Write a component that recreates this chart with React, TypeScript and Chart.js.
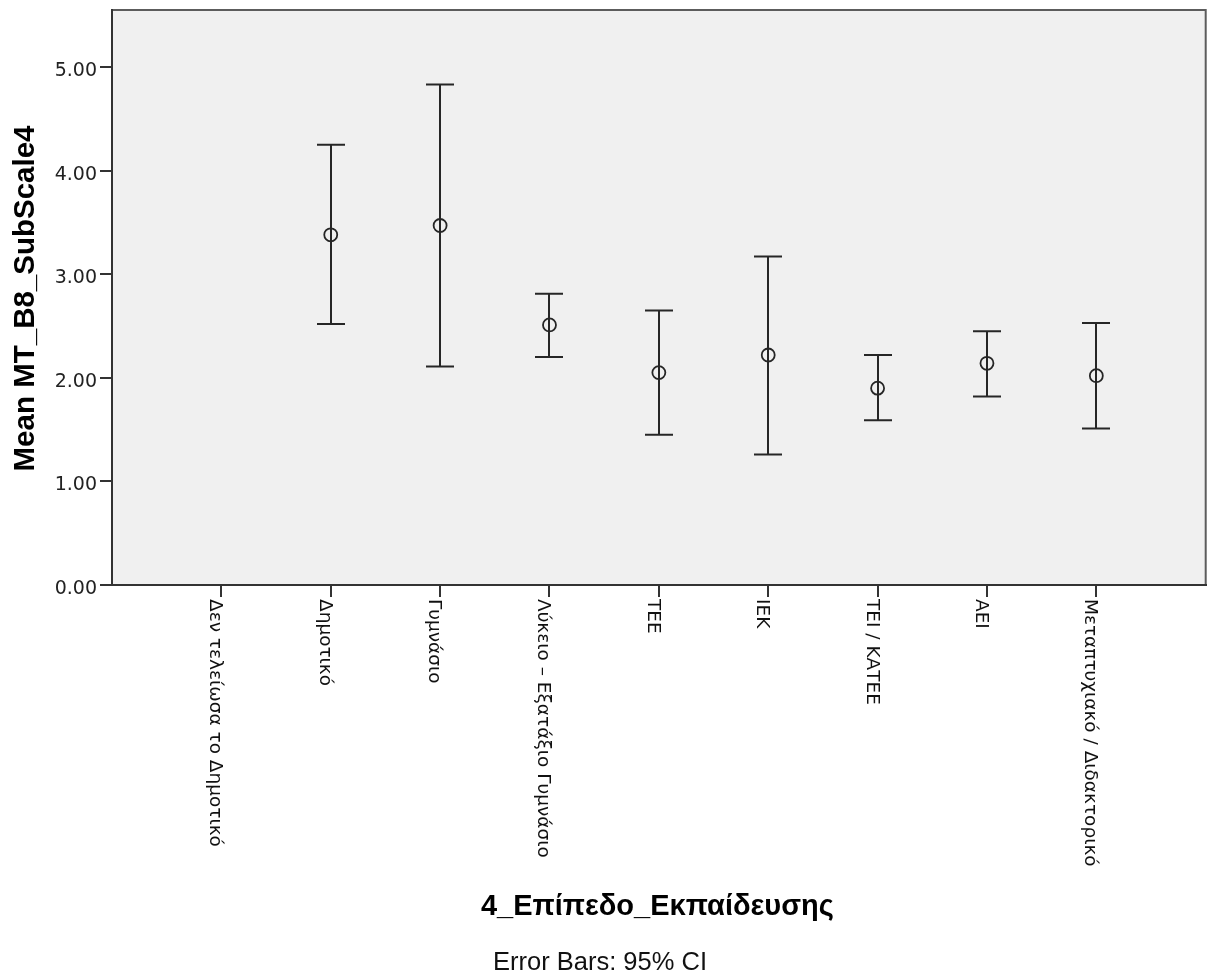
import React, { useEffect, useRef } from 'react';
import { Chart, registerables } from 'chart.js';

Chart.register(...registerables);

// ---- Data ----
const categories: string[] = [
  'Δεν τελείωσα το Δημοτικό',
  'Δημοτικό',
  'Γυμνάσιο',
  'Λύκειο – Εξατάξιο Γυμνάσιο',
  'ΤΕΕ',
  'ΙΕΚ',
  'ΤΕΙ / ΚΑΤΕΕ',
  'ΑΕΙ',
  'Μεταπτυχιακό / Διδακτορικό',
];
const means: (number | null)[] = [null, 3.38, 3.47, 2.51, 2.05, 2.22, 1.90, 2.14, 2.02];
const ciUpper: (number | null)[] = [null, 4.25, 4.83, 2.81, 2.65, 3.17, 2.22, 2.45, 2.53];
const ciLower: (number | null)[] = [null, 2.52, 2.11, 2.20, 1.45, 1.26, 1.59, 1.82, 1.51];
const yTicks: number[] = [0, 1, 2, 3, 4, 5];
const yMax = 5.55;
const yAxisTitle = 'Mean MT_B8_SubScale4';
const xAxisTitle = '4_Επίπεδο_Εκπαίδευσης';
const footnote = 'Error Bars: 95% CI';

const FONT = '"Liberation Sans", Arial, sans-serif';
const TICK_FONT = '"DejaVu Sans", Verdana, sans-serif';

const spssPlugin = {
  id: 'spssDecor',
  beforeDraw(chart: any) {
    const { ctx, chartArea: a } = chart;
    ctx.save();
    ctx.fillStyle = '#f0f0f0';
    ctx.fillRect(a.left, a.top, a.right - a.left, a.bottom - a.top);
    ctx.strokeStyle = '#5c5c5c';
    ctx.lineWidth = 2;
    ctx.beginPath();
    ctx.moveTo(a.left, a.top);
    ctx.lineTo(a.right, a.top);
    ctx.lineTo(a.right, a.bottom);
    ctx.stroke();
    ctx.restore();
  },
  beforeDatasetsDraw(chart: any) {
    const { ctx } = chart;
    const xs = chart.scales.x;
    const ys = chart.scales.y;
    ctx.save();
    ctx.strokeStyle = '#262626';
    ctx.lineWidth = 2;
    const cap = 14;
    categories.forEach((_, i) => {
      const u = ciUpper[i];
      const l = ciLower[i];
      if (u == null || l == null) return;
      const px = Math.round(xs.getPixelForValue(i + 1));
      const pu = ys.getPixelForValue(u);
      const pl = ys.getPixelForValue(l);
      ctx.beginPath();
      ctx.moveTo(px, pu);
      ctx.lineTo(px, pl);
      ctx.moveTo(px - cap, pu);
      ctx.lineTo(px + cap, pu);
      ctx.moveTo(px - cap, pl);
      ctx.lineTo(px + cap, pl);
      ctx.stroke();
    });
    ctx.restore();
  },
  afterDraw(chart: any) {
    const { ctx, chartArea: a } = chart;
    const xs = chart.scales.x;
    ctx.save();
    // rotated category labels (reading top to bottom)
    ctx.fillStyle = '#111';
    ctx.font = `18.5px ${TICK_FONT}`;
    ctx.textAlign = 'left';
    ctx.textBaseline = 'alphabetic';
    categories.forEach((c, i) => {
      const px = xs.getPixelForValue(i + 1);
      ctx.save();
      ctx.translate(px - 11, a.bottom + 14);
      ctx.rotate(Math.PI / 2);
      ctx.fillText(c, 0, 0);
      ctx.restore();
    });
    // y axis title
    ctx.fillStyle = '#000';
    ctx.font = `bold 29.5px ${FONT}`;
    ctx.textAlign = 'center';
    ctx.save();
    ctx.translate(34, (a.top + a.bottom) / 2 + 1);
    ctx.rotate(-Math.PI / 2);
    ctx.fillText(yAxisTitle, 0, 0);
    ctx.restore();
    // x axis title
    ctx.font = `bold 29px ${FONT}`;
    ctx.fillText(xAxisTitle, (a.left + a.right) / 2 - 1.5, 915);
    // footnote
    ctx.font = `25.5px ${FONT}`;
    ctx.fillStyle = '#111';
    ctx.fillText(footnote, 600, 970);
    ctx.restore();
  },
};

export default function App() {
  const ref = useRef<HTMLCanvasElement | null>(null);
  useEffect(() => {
    if (!ref.current) return;
    const chart = new Chart(ref.current, {
      type: 'scatter',
      data: {
        datasets: [
          {
            label: 'Mean',
            data: categories.map((_, i) => ({ x: i + 1, y: means[i] as any })),
            pointRadius: 6.5,
            pointHoverRadius: 6.5,
            pointBorderWidth: 1.8,
            borderColor: '#262626',
            backgroundColor: 'rgba(0,0,0,0)',
            pointBackgroundColor: 'rgba(0,0,0,0)',
            showLine: false,
          },
        ],
      },
      options: {
        animation: false,
        responsive: false,
        events: [],
        layout: { padding: { left: 0, top: 10, right: 4, bottom: 0 } },
        plugins: { legend: { display: false }, tooltip: { enabled: false } },
        scales: {
          x: {
            type: 'linear',
            min: 0,
            max: categories.length + 1,
            afterBuildTicks: (s: any) => {
              s.ticks = categories.map((_, i) => ({ value: i + 1 }));
            },
            afterFit: (s: any) => {
              s.height = 388;
              s.paddingLeft = 0;
              s.paddingRight = 0;
            },
            ticks: { display: false },
            grid: {
              drawOnChartArea: false,
              drawTicks: true,
              tickLength: 12,
              color: '#333',
              lineWidth: 2,
            },
            border: { display: true, color: '#333', width: 2 },
          },
          y: {
            type: 'linear',
            min: 0,
            max: yMax,
            afterBuildTicks: (s: any) => {
              s.ticks = yTicks.map((v) => ({ value: v }));
            },
            afterFit: (s: any) => {
              s.width = 112;
              s.paddingTop = 0;
              s.paddingBottom = 0;
            },
            ticks: {
              callback: (v: any) => Number(v).toFixed(2),
              font: { family: TICK_FONT, size: 19 },
              color: '#222',
              padding: 3,
              labelOffset: 4,
            },
            grid: {
              drawOnChartArea: false,
              drawTicks: true,
              tickLength: 12,
              color: '#333',
              lineWidth: 2,
            },
            border: { display: true, color: '#333', width: 2 },
          },
        },
      },
      plugins: [spssPlugin],
    } as any);
    return () => chart.destroy();
  }, []);
  return (
    <canvas
      ref={ref}
      width={1214}
      height={973}
      style={{ position: 'absolute', left: 0, top: 0, width: 1214, height: 973, display: 'block' }}
    />
  );
}
